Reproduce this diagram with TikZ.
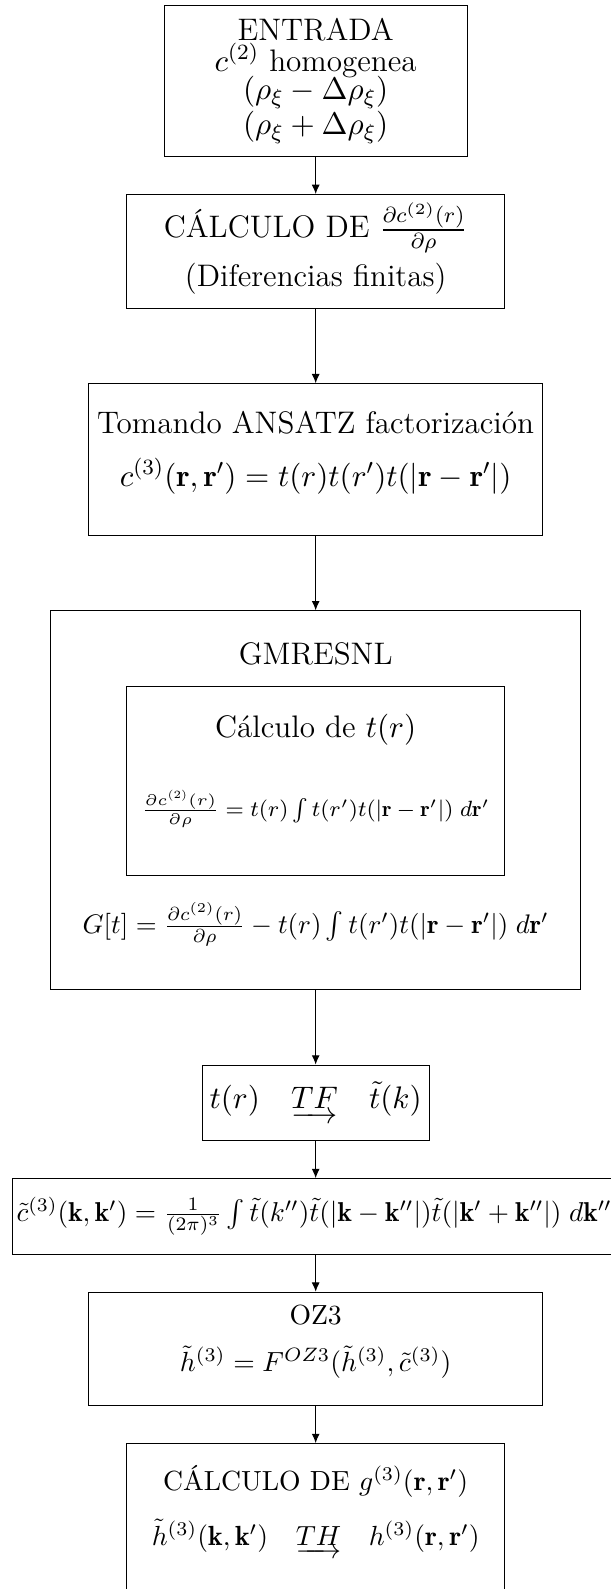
\RequirePackage{fix-cm}
\documentclass[tikz,border=0pt]{standalone}
\usepackage{amsmath,amssymb}
\usepackage{fontspec}
\usepackage{tikz}
\usetikzlibrary{arrows.meta}
\newcommand{\fgrande}{\fontsize{11.7}{14}\selectfont}
\newcommand{\fmedia}{\fontsize{10.4}{12.5}\selectfont}
\newcommand{\fchica}{\fontsize{8.3}{10}\selectfont}

\begin{document}
\begin{tikzpicture}[x=1cm,y=1cm,
  caja/.style={draw, thin, inner sep=0pt},
  txt/.style={anchor=base, inner sep=0pt, font=\fgrande},
  txtm/.style={anchor=base, inner sep=0pt, font=\fmedia},
  txtc/.style={anchor=base, inner sep=0pt, font=\fchica},
  flecha/.style={-{Latex[length=3.5pt,width=3pt]}}]
\useasboundingbox (0,0) rectangle (8.07,-20.99);
\node[caja, minimum width=4cm, minimum height=2cm] (entrada) at (4.17,-1.07) {};
\node[caja, minimum width=5cm, minimum height=1.5cm] (deriv) at (4.17,-3.32) {};
\node[caja, minimum width=6cm, minimum height=2cm] (ansatz) at (4.17,-6.07) {};
\node[caja, minimum width=7cm, minimum height=5cm] (gmres) at (4.17,-10.57) {};
\node[caja, minimum width=5cm, minimum height=2.5cm] (calct) at (4.17,-10.32) {};
\node[caja, minimum width=3cm, minimum height=1cm] (tf) at (4.17,-14.57) {};
\node[caja, minimum width=8cm, minimum height=1cm] (ctil) at (4.17,-16.07) {};
\node[caja, minimum width=6cm, minimum height=1.5cm] (oz) at (4.17,-17.82) {};
\node[caja, minimum width=5cm, minimum height=2cm] (calcg) at (4.17,-20.07) {};
\node[txt] (en1) at (4.17,-0.54) {ENTRADA};
\node[txt] (en2) at (4.17,-0.94) {$c^{(2)}$ homogenea};
\node[txt] (en3) at (4.17,-1.32) {$(\rho_\xi - \Delta\rho_\xi)$};
\node[txt] (en4) at (4.17,-1.78) {$(\rho_\xi + \Delta\rho_\xi)$};
\node[txt] (de1) at (4.17,-3.14) {C\'ALCULO DE $\frac{\partial c^{(2)}(r)}{\partial\rho}$};
\node[txt] (de2) at (4.17,-3.79) {(Diferencias finitas)};
\node[txt] (an1) at (4.17,-5.72) {Tomando ANSATZ factorizaci\'on};
\node[txt] (an2) at (4.17,-6.42) {$c^{(3)}(\mathbf{r},\mathbf{r}') = t(r)t(r')t(|\mathbf{r}-\mathbf{r}'|)$};
\node[txt] (gm1) at (4.17,-8.78) {GMRESNL};
\node[txt] (ct1) at (4.17,-9.74) {C\'alculo de $t(r)$};
\node[txtc] (ct2) at (4.17,-10.78) {$\frac{\partial c^{(2)}(r)}{\partial\rho} = t(r)\int t(r')t(|\mathbf{r}-\mathbf{r}'|)\;d\mathbf{r}'$};
\node[txtm, font=\fontsize{10.1}{12}\selectfont] (gm2) at (4.17,-12.33) {$G[t] = \frac{\partial c^{(2)}(r)}{\partial\rho} - t(r)\int t(r')t(|\mathbf{r}-\mathbf{r}'|)\;d\mathbf{r}'$};
\node[txt, anchor=center] (tf1) at (tf) {$t(r)\quad\underrightarrow{TF}\quad\tilde{t}(k)$};
\node[txtm, anchor=center, font=\fontsize{10.25}{12}\selectfont] (ct3) at (4.15,-16.07) {$\tilde{c}^{(3)}(\mathbf{k},\mathbf{k}') = \frac{1}{(2\pi)^3}\int\tilde{t}(k'')\tilde{t}(|\mathbf{k}-\mathbf{k}''|)\tilde{t}(|\mathbf{k}'+\mathbf{k}''|)\;d\mathbf{k}''$};
\node[txtm] (oz1) at (4.17,-17.49) {OZ3};
\node[txtm] (oz2) at (4.17,-18.12) {$\tilde{h}^{(3)} = F^{OZ3}(\tilde{h}^{(3)},\tilde{c}^{(3)})$};
\node[txtm] (cg1) at (4.17,-19.69) {C\'ALCULO DE $g^{(3)}(\mathbf{r},\mathbf{r}')$};
\node[txtm] (cg2) at (4.17,-20.41) {$\tilde{h}^{(3)}(\mathbf{k},\mathbf{k}')\quad\underrightarrow{TH}\quad h^{(3)}(\mathbf{r},\mathbf{r}')$};
\draw[flecha] (entrada) -- (deriv);
\draw[flecha] (deriv) -- (ansatz);
\draw[flecha] (ansatz) -- (gmres);
\draw[flecha] (gmres) -- (tf);
\draw[flecha] (tf) -- (ctil);
\draw[flecha] (ctil) -- (oz);
\draw[flecha] (oz) -- (calcg);
\end{tikzpicture}
\end{document}
